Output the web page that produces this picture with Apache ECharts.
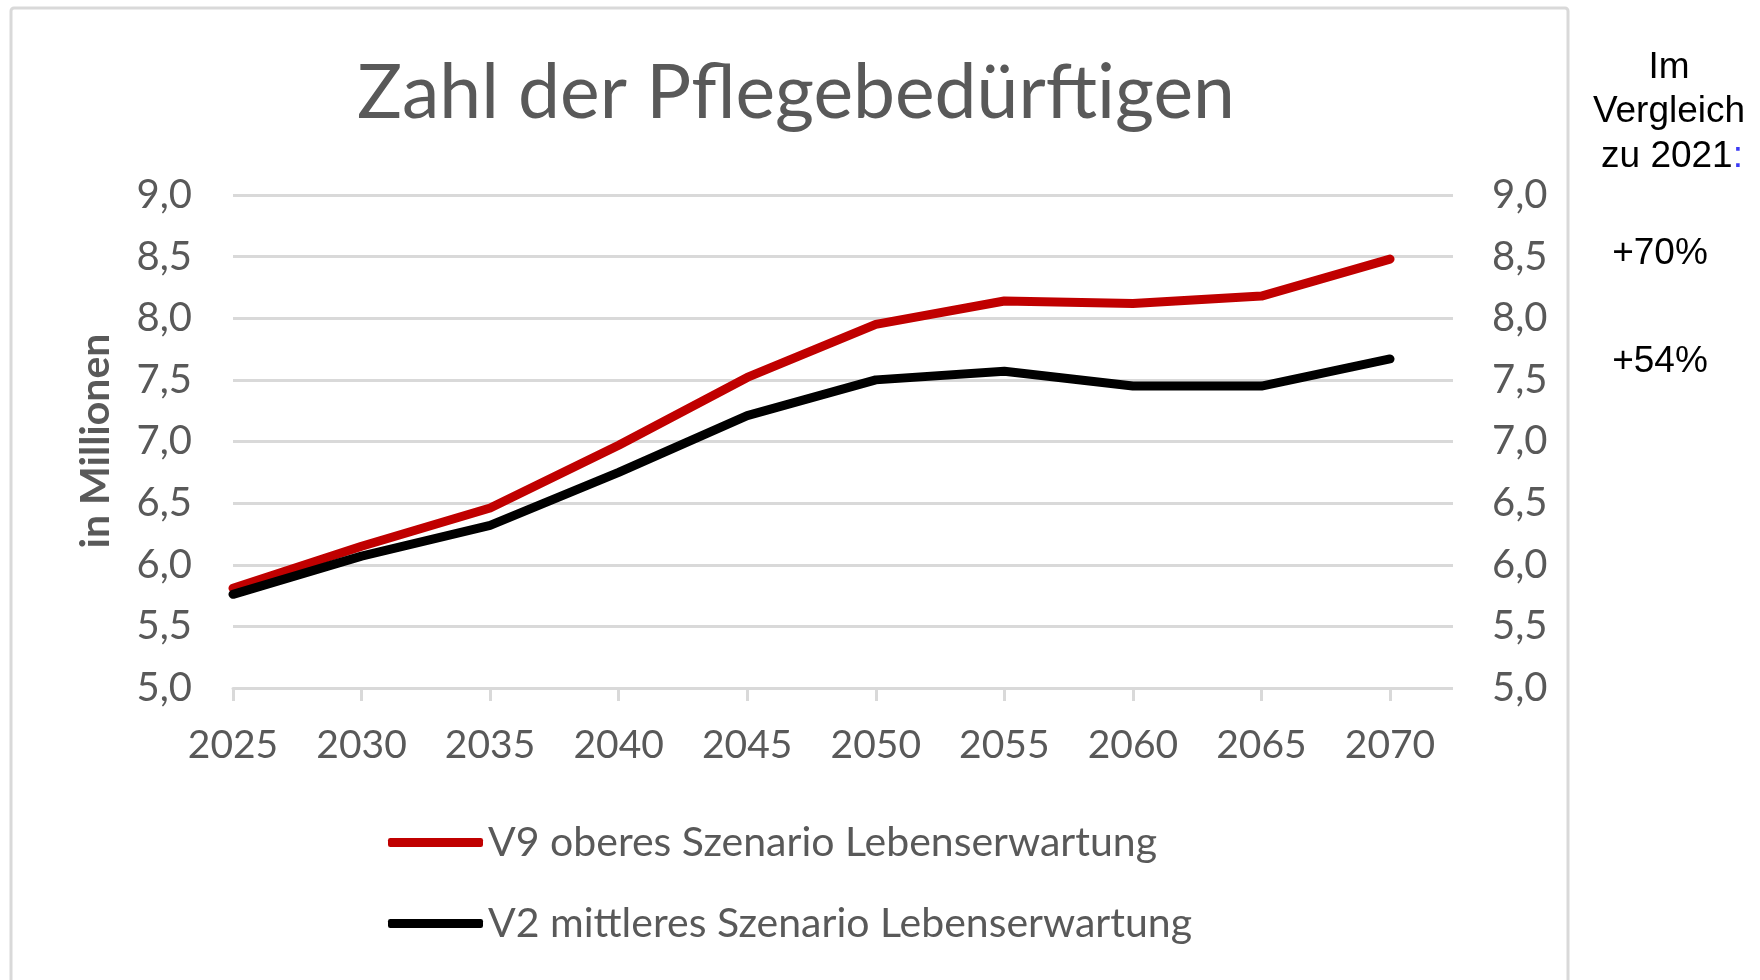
<!DOCTYPE html>
<html>
<head>
<meta charset="utf-8">
<script src="https://cdn.jsdelivr.net/npm/echarts@6/dist/echarts.min.js"></script>
<style>
  html, body { margin: 0; padding: 0; background: #fff; }
  #chart { width: 1760px; height: 980px; }
</style>
</head>
<body>
<div id="chart"></div>
<script>
// data
const years = ['2025', '2030', '2035', '2040', '2045', '2050', '2055', '2060', '2065', '2070']
const v9Upper = [5.81, 6.15, 6.46, 6.97, 7.52, 7.95, 8.14, 8.12, 8.18, 8.48]
const v2Middle = [5.76, 6.07, 6.32, 6.75, 7.21, 7.50, 7.57, 7.45, 7.45, 7.67]
const seriesNames = ['V9 oberes Szenario Lebenserwartung', 'V2 mittleres Szenario Lebenserwartung']
const yMin = 5
const yMax = 9
const yStep = 0.5
const changeLabels = ['+70%', '+54%']

const grey = '#595959'
const gridGrey = '#d9d9d9'
const font = 'Lato, "Open Sans", sans-serif'
const arial = '"Liberation Sans", Arial'

const chart = echarts.init(document.getElementById('chart'))

const fmt = (v) => v.toFixed(1).replace('.', ',')

const option = {
  backgroundColor: '#fff',
  animation: false,
  title: {
    text: 'Zahl der Pflegebedürftigen',
    left: 791,
    top: 51,
    textAlign: 'center',
    textStyle: { color: grey, fontFamily: font, fontSize: 75, fontWeight: 'normal' }
  },
  legend: {
    orient: 'vertical',
    left: 383,
    top: 817,
    icon: 'roundRect',
    itemWidth: 95,
    itemHeight: 9,
    itemGap: 40,
    data: seriesNames,
    textStyle: { color: grey, fontFamily: font, fontSize: 41, lineHeight: 40 }
  },
  grid: [
    // wide grid only for the horizontal gridlines + both value axes
    { left: 233, right: 307, top: 195, bottom: 292 },
    // grid for the lines and year axis
    { left: 233, right: 370, top: 195, bottom: 292 }
  ],
  xAxis: [
    { gridIndex: 0, type: 'value', min: 0, max: 1, show: false },
    {
      gridIndex: 1,
      type: 'category',
      boundaryGap: false,
      data: years,
      axisLine: { lineStyle: { color: gridGrey, width: 3 } },
      axisTick: { length: 13, lineStyle: { color: gridGrey, width: 3 } },
      axisLabel: { color: grey, fontFamily: font, fontSize: 39, margin: 38 }
    }
  ],
  yAxis: [
    {
      gridIndex: 0,
      type: 'value',
      min: yMin,
      max: yMax,
      interval: yStep,
      axisLine: { show: false },
      axisTick: { show: false },
      splitLine: { lineStyle: { color: gridGrey, width: 3 } },
      axisLabel: { color: grey, fontFamily: font, fontSize: 40, margin: 41, formatter: fmt }
    },
    {
      gridIndex: 0,
      type: 'value',
      position: 'right',
      min: yMin,
      max: yMax,
      interval: yStep,
      axisLine: { show: false },
      axisTick: { show: false },
      splitLine: { show: false },
      axisLabel: { color: grey, fontFamily: font, fontSize: 40, margin: 39, formatter: fmt }
    },
    { gridIndex: 1, type: 'value', min: yMin, max: yMax, show: false }
  ],
  series: [
    {
      name: seriesNames[0],
      type: 'line',
      xAxisIndex: 1,
      yAxisIndex: 2,
      data: v9Upper,
      symbol: 'none',
      itemStyle: { color: '#c00000' },
      lineStyle: { color: '#c00000', width: 9, cap: 'round', join: 'round' }
    },
    {
      name: seriesNames[1],
      type: 'line',
      xAxisIndex: 1,
      yAxisIndex: 2,
      data: v2Middle,
      symbol: 'none',
      itemStyle: { color: '#000000' },
      lineStyle: { color: '#000000', width: 9, cap: 'round', join: 'round' }
    }
  ],
  graphic: [
    {
      type: 'rect',
      silent: true,
      shape: { x: 11, y: 8, width: 1557, height: 1200, r: 3 },
      style: { fill: 'none', stroke: gridGrey, lineWidth: 3 }
    },
    {
      type: 'text',
      x: 96,
      y: 441,
      rotation: Math.PI / 2,
      style: {
        text: 'in Millionen',
        fill: grey,
        font: 'bold 41px ' + font,
        align: 'center',
        verticalAlign: 'middle'
      }
    },
    {
      type: 'text', x: 1669, y: 68,
      style: { text: 'Im', fill: '#000', font: '37px ' + arial, align: 'center', verticalAlign: 'middle' }
    },
    {
      type: 'text', x: 1669, y: 112,
      style: { text: 'Vergleich', fill: '#000', font: '37px ' + arial, align: 'center', verticalAlign: 'middle' }
    },
    {
      type: 'text', x: 1672, y: 157,
      style: {
        text: '{a|zu 2021}{b|:}',
        align: 'center',
        verticalAlign: 'middle',
        rich: {
          a: { fill: '#000', fontSize: 37, fontFamily: arial },
          b: { fill: '#3b3bf5', fontSize: 37, fontFamily: arial }
        }
      }
    },
    {
      type: 'text', x: 1660, y: 254,
      style: { text: changeLabels[0], fill: '#000', font: '37px ' + arial, align: 'center', verticalAlign: 'middle' }
    },
    {
      type: 'text', x: 1660, y: 362,
      style: { text: changeLabels[1], fill: '#000', font: '37px ' + arial, align: 'center', verticalAlign: 'middle' }
    }
  ]
}

chart.setOption(option)

window.addEventListener('resize', () => {
  chart.resize()
})
</script>
</body>
</html>
